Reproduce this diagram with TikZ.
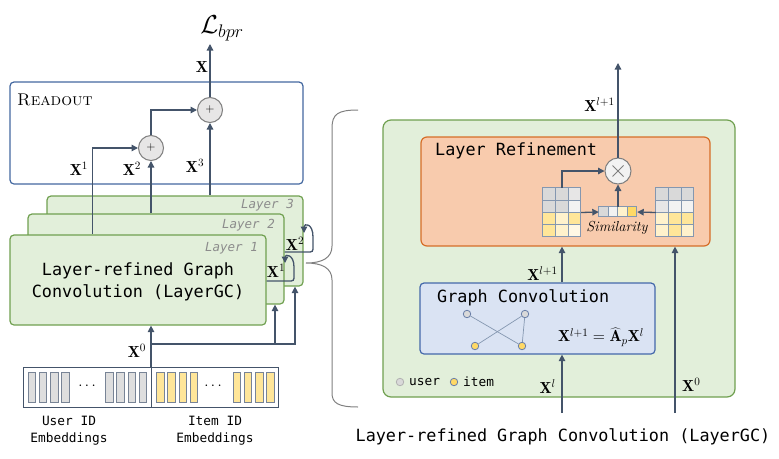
\RequirePackage{fix-cm}
\documentclass[tikz,border=0pt]{standalone}
\usepackage{fontspec}
\setmonofont{DejaVu Sans Mono}
\usetikzlibrary{arrows.meta,calc}
\definecolor{arrowc}{RGB}{68,84,106}
\definecolor{readb}{RGB}{68,104,160}
\definecolor{greenb}{RGB}{112,160,80}
\definecolor{greenf}{RGB}{226,239,218}
\definecolor{orangef}{RGB}{248,203,173}
\definecolor{orangeb}{RGB}{214,110,40}
\definecolor{gcf}{RGB}{218,227,243}
\definecolor{gcb}{RGB}{68,104,170}
\definecolor{circf}{RGB}{231,230,230}
\definecolor{circb}{RGB}{127,127,127}
\definecolor{laygray}{RGB}{140,140,140}
\definecolor{barb}{RGB}{120,132,150}
\definecolor{userf}{RGB}{222,222,222}
\definecolor{itemf}{RGB}{255,230,153}
\definecolor{cellb}{RGB}{132,151,176}
\definecolor{gnodeb}{RGB}{106,127,168}
\definecolor{bracec}{RGB}{128,128,128}
\definecolor{ga}{RGB}{217,217,217}
\definecolor{gb}{RGB}{231,230,230}
\definecolor{gc}{RGB}{242,242,242}
\definecolor{ya}{RGB}{255,230,153}
\definecolor{yb}{RGB}{255,242,204}
\definecolor{yc}{RGB}{255,248,229}
\definecolor{yd}{RGB}{255,217,102}
\begin{document}
\begin{tikzpicture}[x=1pt,y=-1pt,
  arr/.style={draw=arrowc, line width=1.3pt, -{Triangle[length=6.5pt,width=6.5pt]}},
  lbl/.style={inner sep=0pt, font=\fontsize{16}{18}\selectfont},
  mono/.style={inner sep=0pt, font=\fontsize{16.8}{22}\selectfont\ttfamily},
  smono/.style={inner sep=0pt, font=\fontsize{12.8}{17}\selectfont\ttfamily},
  layerbox/.style={draw=greenb, fill=greenf, line width=1.2pt, rounded corners=4pt, minimum width=256pt, minimum height=90pt, inner sep=0pt},
  laylbl/.style={inner sep=0pt, font=\fontsize{12.5}{15}\selectfont\ttfamily\itshape, text=laygray, anchor=east},
  plusc/.style={circle, draw=circb, fill=circf, line width=1pt, minimum size=25pt, inner sep=0pt, font=\fontsize{12}{12}\selectfont},
  bar/.style={draw=barb, line width=0.9pt},
  cell/.style={draw=cellb, line width=0.8pt},
  gnode/.style={circle, draw=gnodeb, line width=0.8pt, minimum size=7.5pt, inner sep=0pt},
  edge/.style={draw=cellb, line width=0.7pt},
]
\useasboundingbox (0,0) rectangle (779,458);

% ---------- Readout ----------
\node[draw=readb, fill=white, line width=1.2pt, rounded corners=4pt, minimum width=293pt, minimum height=102pt, inner sep=0pt] (RO) at (156.5,133) {};
\node[anchor=base west, inner sep=0pt, font=\fontsize{17}{20}\selectfont] (ROt) at (17,105) {\textsc{Readout}};
\node[plusc] (p1) at (210,110) {+};
\node[plusc] (p2) at (151,148) {+};
\coordinate (out) at (210,44);
\node[inner sep=0pt, font=\fontsize{26}{28}\selectfont] (Lbpr) at (222,28) {$\mathcal{L}_{bpr}$};
\node[lbl] (lX) at (202,67) {$\mathbf{X}$};

% ---------- Layers ----------
\node[layerbox] (L3) at (175,241) {};
\node[layerbox] (L2) at (156,259) {};
\node[layerbox] (L1) at (138,280) {};
\node[laylbl] (t3) at (294,205) {Layer 3};
\node[laylbl] (t2) at (275,225) {Layer 2};
\node[laylbl] (t1) at (258,248) {Layer 1};
\node[mono, align=center] (Lt) at (138,282) {Layer-refined Graph\\Convolution (LayerGC)};

% readout connectors
\draw[arr] ([xshift=83pt]L1.north west) |- (p2.west);
\draw[arr] (p2.south |- L2.north) -- (p2.south);
\draw[arr] (p2.north) |- (p1.west);
\draw[arr] (p1.south |- L3.north) -- (p1.south);
\draw[arr] (p1.north) -- (out);
\node[lbl] (lX1) at (79,169) {$\mathbf{X}^{1}$};
\node[lbl] (lX2) at (132,169) {$\mathbf{X}^{2}$};
\node[lbl] (lX3) at (195,166) {$\mathbf{X}^{3}$};

% loops
\coordinate (lp1) at (0,281);
\coordinate (lp2) at (0,252);
\draw[arr] (L1.east |- lp1) -- (288,281) .. controls (294,281) .. (294,275) -- (294,267) .. controls (294,254) and (285,254) .. (285,263);
\draw[arr] (L2.east |- lp2) -- (307,252) .. controls (313,252) .. (313,246) -- (313,237) .. controls (313,223) and (304,223) .. (304,233);
\node[lbl] (lX1b) at (276,271) {$\mathbf{X}^{1}$};
\node[lbl] (lX2b) at (295,244) {$\mathbf{X}^{2}$};

% X0 connectors
\coordinate (x0) at (151,367);
\coordinate (br) at (151,344);
\coordinate (b2) at (275,344);
\coordinate (b3) at (295,344);
\draw[arr] (x0) -- (x0 |- L1.south);
\draw[arr] (b2) -- (b2 |- L2.south);
\draw[arr] (br) -- (b3) -- (b3 |- L3.south);
\node[lbl] (lX0) at (137,351) {$\mathbf{X}^{0}$};

% ---------- Embeddings ----------
\node[draw=arrowc, line width=1pt, minimum width=255pt, minimum height=40pt, inner sep=0pt] (E) at (150.5,387) {};
\draw[draw=arrowc, line width=1pt] (x0) -- (x0 |- E.south);
\foreach \x in {28,39.3,50.6,61.9,105.5,116.8,128.1,139.4}
  \draw[bar, fill=userf] (\x,372) rectangle ++(7.5,30);
\foreach \x in {156.5,167.8,179.1,190.4,233,244.3,255.6,266.9}
  \draw[bar, fill=itemf] (\x,372) rectangle ++(7.5,30);
\node[inner sep=0pt, font=\fontsize{15}{16}\selectfont] (d1) at (87,386) {$\cdots$};
\node[inner sep=0pt, font=\fontsize{15}{16}\selectfont] (d2) at (213,386) {$\cdots$};
\node[smono, align=center] (ue) at (69,431) {User ID\\Embeddings};
\node[smono, align=center] (ie) at (215,431) {Item ID\\Embeddings};

% ---------- Brace ----------
\draw[bracec, line width=1pt] (358,110) .. controls (338,110) and (332,114) .. (332,128) -- (332,246) .. controls (332,258) and (322,263) .. (306,263) .. controls (322,263) and (332,268) .. (332,280) -- (332,393) .. controls (332,403) and (338,407) .. (358,407);

% ---------- Right panel ----------
\node[draw=greenb, fill=greenf, line width=1.2pt, rounded corners=8pt, minimum width=352pt, minimum height=277pt, inner sep=0pt] (G) at (559,258.5) {};
\node[draw=orangeb, fill=orangef, line width=1.2pt, rounded corners=6pt, minimum width=289pt, minimum height=109pt, inner sep=0pt] (LR) at (565.5,191.5) {};
\node[mono, anchor=west] (LRt) at (435,151) {Layer Refinement};
\node[draw=gcb, fill=gcf, line width=1.2pt, rounded corners=4pt, minimum width=235pt, minimum height=71pt, inner sep=0pt] (GC) at (537.5,318.5) {};
\node[mono, anchor=west] (GCt) at (437,298) {Graph Convolution};

% matrices
\node[minimum width=38pt, minimum height=49pt, inner sep=0pt] (mL) at (562,212.5) {};
\node[minimum width=38pt, minimum height=49pt, inner sep=0pt] (mR) at (675,212.5) {};
\foreach \c [count=\i from 0] in {ga,ga,gb,ga,ga,gc,ya,yb,ya,ya,yb,yc} {
  \pgfmathtruncatemacro\col{mod(\i,3)}
  \pgfmathtruncatemacro\row{floor(\i/3)}
  \draw[cell, fill=\c] ([shift={(\col*12.667,\row*12.25)}]mL.north west) rectangle ++(12.667,12.25);
}
\foreach \c [count=\i from 0] in {ga,ga,ga,gb,gc,gc,yb,ya,ya,yb,ya,yb} {
  \pgfmathtruncatemacro\col{mod(\i,3)}
  \pgfmathtruncatemacro\row{floor(\i/3)}
  \draw[cell, fill=\c] ([shift={(\col*12.667,\row*12.25)}]mR.north west) rectangle ++(12.667,12.25);
}
\node[minimum width=38pt, minimum height=10pt, inner sep=0pt] (sv) at (618,212) {};
\foreach \c [count=\i from 0] in {ga,gc,yb,yd}
  \draw[cell, fill=\c] ([shift={(\i*9.5,0)}]sv.north west) rectangle ++(9.5,10);
\node[inner sep=0pt, font=\fontsize{14.5}{16}\selectfont\itshape] (simt) at (617,228) {Similarity};

\node[circle, draw=circb, fill=gc, line width=1pt, minimum size=26pt, inner sep=0pt] (tm) at (618,171) {};
\draw[circb, line width=1pt] ([shift={(-5.5,-5.5)}]tm.center) -- ([shift={(5.5,5.5)}]tm.center);
\draw[circb, line width=1pt] ([shift={(-5.5,5.5)}]tm.center) -- ([shift={(5.5,-5.5)}]tm.center);

\draw[arr] (mL.east) -- (sv.west);
\draw[arr] (mR.west) -- (sv.east);
\draw[arr] (sv.north) -- (tm.south);
\draw[arr] (mL.north) |- (tm.west);
\coordinate (outr) at (618,63);
\draw[arr] (tm.north) -- (outr);
\node[lbl, anchor=east] (lXo) at (615,105) {$\mathbf{X}^{l+1}$};

% GC -> LR
\draw[arr] (GC.north -| mL) -- (LR.south -| mL);
\node[lbl, anchor=east] (lXm) at (558,274) {$\mathbf{X}^{l+1}$};
\coordinate (xl) at (562,413);
\coordinate (x0r) at (675,413);
\draw[arr] (xl) -- (xl |- GC.south);
\draw[arr] (x0r) -- (x0r |- LR.south);
\node[lbl, anchor=east] (lXl) at (556,387) {$\mathbf{X}^{l}$};
\node[lbl, anchor=west] (lX0r) at (682,385) {$\mathbf{X}^{0}$};

% graph
\node[gnode, fill=ga] (u1) at (467,314) {};
\node[gnode, fill=ga] (u2) at (525,314) {};
\node[gnode, fill=yd] (i1) at (475,346) {};
\node[gnode, fill=yd] (i2) at (522,346) {};
\draw[edge] (u1) -- (i2);
\draw[edge] (u2) -- (i1);
\draw[edge] (u2) -- (i2);
\node[lbl] (form) at (601,337) {$\mathbf{X}^{l+1}=\widehat{\mathbf{A}}_p\mathbf{X}^{l}$};

% legend
\node[gnode, fill=ga, draw=circb!60] (lu) at (400,382) {};
\node[smono, anchor=west] (lut) at (409,382) {user};
\node[gnode, fill=yd] (li) at (454,382) {};
\node[smono, anchor=west] (lit) at (463,382) {item};

% title
\node[mono] (title) at (563,437) {Layer-refined Graph Convolution (LayerGC)};
\end{tikzpicture}
\end{document}
